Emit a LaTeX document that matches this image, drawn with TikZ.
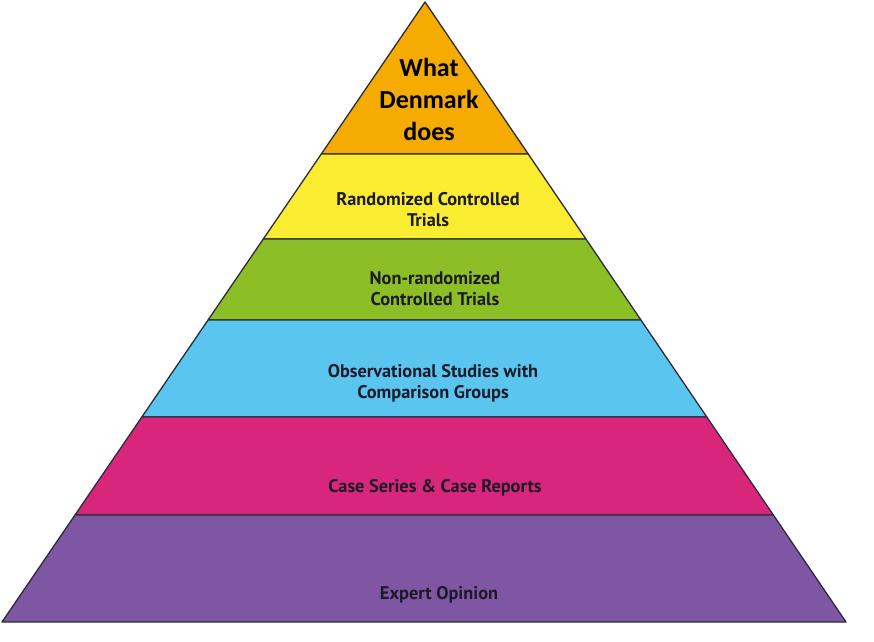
\documentclass[tikz,border=0pt]{standalone}
\usepackage{fontspec}
\setmainfont{Carlito}
\newfontfamily\labelfont{PT Sans}
\usetikzlibrary{calc}
\definecolor{cOrange}{HTML}{F6AB00}
\definecolor{cYellow}{HTML}{FAEC30}
\definecolor{cGreen}{HTML}{8CBE26}
\definecolor{cBlue}{HTML}{5AC6EF}
\definecolor{cPink}{HTML}{D9267D}
\definecolor{cPurple}{HTML}{7E56A3}
\definecolor{cEdge}{HTML}{2B2B3A}
\definecolor{cText}{HTML}{1C1A28}
\tikzset{
  layer/.style={draw=cEdge, line width=1.3pt, line join=round},
  lbl/.style={font=\labelfont\bfseries\fontsize{18.3}{21}\selectfont, text=cText, align=center, inner sep=0pt},
  toplbl/.style={font=\bfseries\fontsize{26}{32}\selectfont, text=black, align=center, inner sep=0pt}
}
\begin{document}
\begin{tikzpicture}[x=1pt,y=-1pt]
\useasboundingbox (0,0) rectangle (874,641);
\coordinate (A) at (425,2);
\coordinate (BL) at (2,622);
\coordinate (BR) at (846,622);
\foreach \n/\t in {1/0.2452,2/0.3823,3/0.5129,4/0.6694,5/0.8274} {
  \coordinate (L\n) at ($(A)!\t!(BL)$);
  \coordinate (R\n) at ($(A)!\t!(BR)$);
}
\filldraw[layer, fill=cOrange] (A) -- (R1) -- (L1) -- cycle;
\filldraw[layer, fill=cYellow] (L1) -- (R1) -- (R2) -- (L2) -- cycle;
\filldraw[layer, fill=cGreen] (L2) -- (R2) -- (R3) -- (L3) -- cycle;
\filldraw[layer, fill=cBlue] (L3) -- (R3) -- (R4) -- (L4) -- cycle;
\filldraw[layer, fill=cPink] (L4) -- (R4) -- (R5) -- (L5) -- cycle;
\filldraw[layer, fill=cPurple] (L5) -- (R5) -- (BR) -- (BL) -- cycle;
\node[toplbl] (t0) at (429,99) {What\\Denmark\\does};
\node[lbl] (t1) at (428,210) {Randomized Controlled\\Trials};
\node[lbl] (t2) at (435,289) {Non-randomized\\Controlled Trials};
\node[lbl] (t3) at (433,383) {Observational Studies with\\Comparison Groups};
\node[lbl] (t4) at (435,488) {Case Series \& Case Reports};
\node[lbl] (t5) at (439,595) {Expert Opinion};
\end{tikzpicture}
\end{document}
